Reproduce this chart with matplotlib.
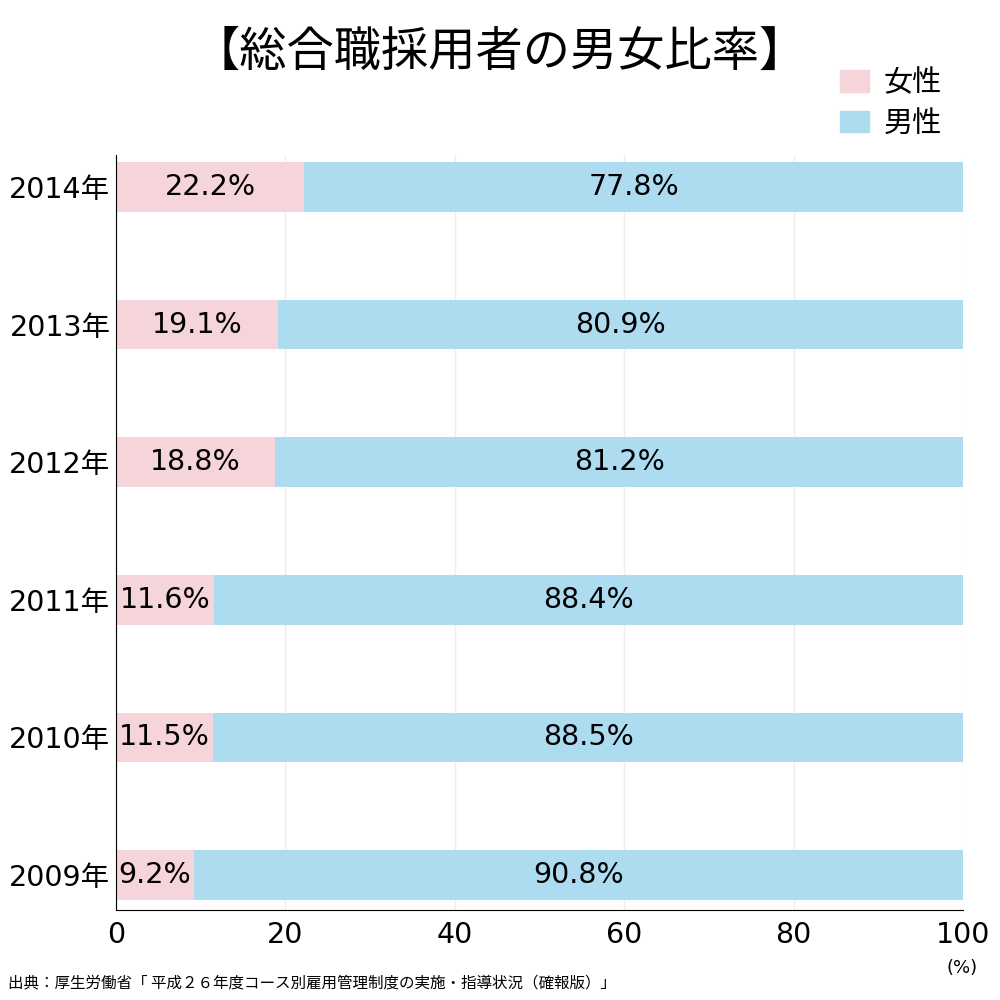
import matplotlib
matplotlib.use("Agg")
import matplotlib.pyplot as plt
from matplotlib.patches import Patch

plt.rcParams['font.family'] = ['DejaVu Sans', 'Noto Sans CJK JP']
cjk = ['Noto Sans CJK JP', 'DejaVu Sans']

years = ['2009年', '2010年', '2011年', '2012年', '2013年', '2014年']
female = [9.2, 11.5, 11.6, 18.8, 19.1, 22.2]
male = [90.8, 88.5, 88.4, 81.2, 80.9, 77.8]

pink = '#f5d4da'
blue = '#addcf0'

fig = plt.figure(figsize=(10, 10), dpi=100)
ax = fig.add_axes([0.116, 0.09, 0.847, 0.755])

y = range(len(years))
ax.barh(y, female, height=0.36, color=pink, zorder=2)
ax.barh(y, male, left=female, height=0.36, color=blue, zorder=2)

for i in y:
    ax.text(female[i] / 2, i, f'{female[i]}%', ha='center', va='center', fontsize=20.5)
    ax.text(female[i] + male[i] / 2, i, f'{male[i]}%', ha='center', va='center', fontsize=20.5)

ax.set_xlim(0, 100)
ax.set_ylim(-0.254, 5.233)
ax.set_xticks([0, 20, 40, 60, 80, 100])
ax.set_yticks(list(y))
ax.set_yticklabels(years)
ax.tick_params(axis='both', length=0, labelsize=20.5)
ax.tick_params(axis='x', pad=8)
ax.tick_params(axis='y', pad=4)
ax.grid(axis='x', color='#eeeeee', linewidth=1, zorder=0)
for s in ['top', 'right']:
    ax.spines[s].set_visible(False)
ax.spines['left'].set_color('black')
ax.spines['bottom'].set_color('black')

fig.text(0.5, 0.947, '【総合職採用者の男女比率】', ha='center', va='center', fontsize=34, family=cjk)
fig.text(0.962, 0.032, '(%)', ha='center', va='center', fontsize=13)
fig.text(0.008, 0.017, '出典：厚生労働省「 平成２６年度コース別雇用管理制度の実施・指導状況（確報版）」',
         ha='left', va='center', fontsize=11.2, family=cjk)

handles = [Patch(color=pink, label='女性'), Patch(color=blue, label='男性')]
fig.legend(handles=handles, loc='upper right', bbox_to_anchor=(0.968, 0.958), frameon=False,
           handlelength=1.0, handleheight=0.75, handletextpad=0.5, labelspacing=0.35,
           prop={'family': cjk, 'size': 21})

fig.savefig('out.png', dpi=100)
